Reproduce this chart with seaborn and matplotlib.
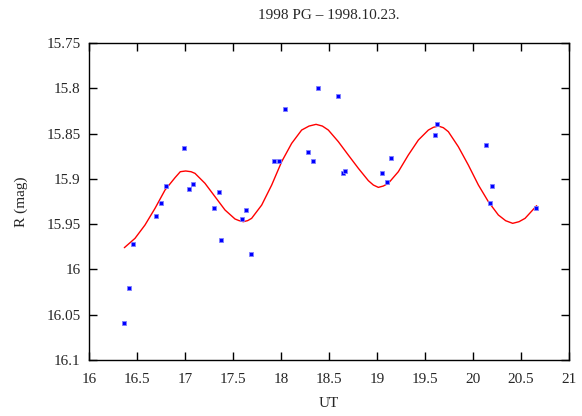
import numpy as np
import pandas as pd
import matplotlib
matplotlib.use("Agg")
import matplotlib.pyplot as plt
import seaborn as sns

# Observed R magnitudes of 1998 PG on 1998-10-23
ut = [16.368, 16.417, 16.462, 16.701, 16.750, 16.802, 16.993, 17.042, 17.087,
      17.299, 17.351, 17.378, 17.594, 17.639, 17.688, 17.927, 17.976, 18.045,
      18.285, 18.333, 18.382, 18.597, 18.646, 18.670, 19.055, 19.101, 19.149,
      19.604, 19.628, 20.132, 20.180, 20.201, 20.659]
rmag = [16.059, 16.021, 15.972, 15.941, 15.927, 15.908, 15.866, 15.911, 15.906,
        15.932, 15.914, 15.968, 15.944, 15.934, 15.983, 15.880, 15.880, 15.823,
        15.870, 15.880, 15.800, 15.809, 15.893, 15.891, 15.894, 15.903, 15.877,
        15.852, 15.839, 15.863, 15.927, 15.908, 15.932]

# Fitted light curve
fit_ut = [16.368, 16.479, 16.583, 16.688, 16.792, 16.896, 16.951, 17.007, 17.063,
          17.104, 17.208, 17.313, 17.417, 17.521, 17.563, 17.608, 17.653, 17.694,
          17.799, 17.903, 18.007, 18.111, 18.215, 18.292, 18.365, 18.431, 18.493,
          18.597, 18.701, 18.806, 18.910, 18.962, 19.014, 19.066, 19.118, 19.222,
          19.326, 19.431, 19.535, 19.587, 19.639, 19.691, 19.743, 19.847, 19.951,
          20.056, 20.160, 20.264, 20.340, 20.413, 20.479, 20.542, 20.663]
fit_mag = [15.9760, 15.9657, 15.9510, 15.9325, 15.9123, 15.8987, 15.8921, 15.8913,
           15.8921, 15.8939, 15.9049, 15.9197, 15.9344, 15.9443, 15.9461, 15.9473,
           15.9461, 15.9436, 15.9289, 15.9068, 15.8810, 15.8608, 15.8461, 15.8417,
           15.8398, 15.8417, 15.8461, 15.8589, 15.8737, 15.8884, 15.9020, 15.9068,
           15.9094, 15.9079, 15.9049, 15.8921, 15.8737, 15.8571, 15.8461, 15.8431,
           15.8417, 15.8435, 15.8479, 15.8645, 15.8847, 15.9068, 15.9252, 15.9399,
           15.9462, 15.9491, 15.9473, 15.9436, 15.9296]

x_ticks = [16, 16.5, 17, 17.5, 18, 18.5, 19, 19.5, 20, 20.5, 21]
x_labels = ["16", "16.5", "17", "17.5", "18", "18.5", "19", "19.5", "20", "20.5", "21"]
y_ticks = [15.75, 15.8, 15.85, 15.9, 15.95, 16, 16.05, 16.1]
y_labels = ["15.75", "15.8", "15.85", "15.9", "15.95", "16", "16.05", "16.1"]

obs = pd.DataFrame({"UT": ut, "R": rmag})
fit = pd.DataFrame({"UT": fit_ut, "R": fit_mag})

sns.set_style("ticks")
plt.rcParams["font.family"] = ["Liberation Serif", "DejaVu Serif"]

fig = plt.figure(figsize=(5.82, 4.16), dpi=100)
ax = fig.add_axes([0.1529, 0.1346, 0.8248, 0.762])

sns.lineplot(data=fit, x="UT", y="R", ax=ax, color="#ff0000", linewidth=1.0,
             sort=False, zorder=2)
sns.scatterplot(data=obs, x="UT", y="R", ax=ax, marker="s", s=11,
                color="#0000ff", edgecolor="#8080ff", linewidth=0.6, zorder=3)

ax.set_xlim(16, 21)
ax.set_ylim(16.1, 15.75)
ax.set_xticks(x_ticks)
ax.set_xticklabels(x_labels)
ax.set_yticks(y_ticks)
ax.set_yticklabels(y_labels)

ax.tick_params(direction="in", length=6, width=1.0, color="black",
               top=True, right=True, labelsize=11)
ax.tick_params(axis="x", pad=9.5)
ax.tick_params(axis="y", pad=6)
for side in ax.spines.values():
    side.set_linewidth(1.0)
    side.set_color("black")

ax.set_xlabel("UT", fontsize=11, labelpad=8)
ax.set_ylabel("R (mag)", fontsize=11, labelpad=13)
ax.set_title("1998 PG \u2013 1998.10.23.", fontsize=11, pad=17)

fig.savefig("out.png", dpi=100)
